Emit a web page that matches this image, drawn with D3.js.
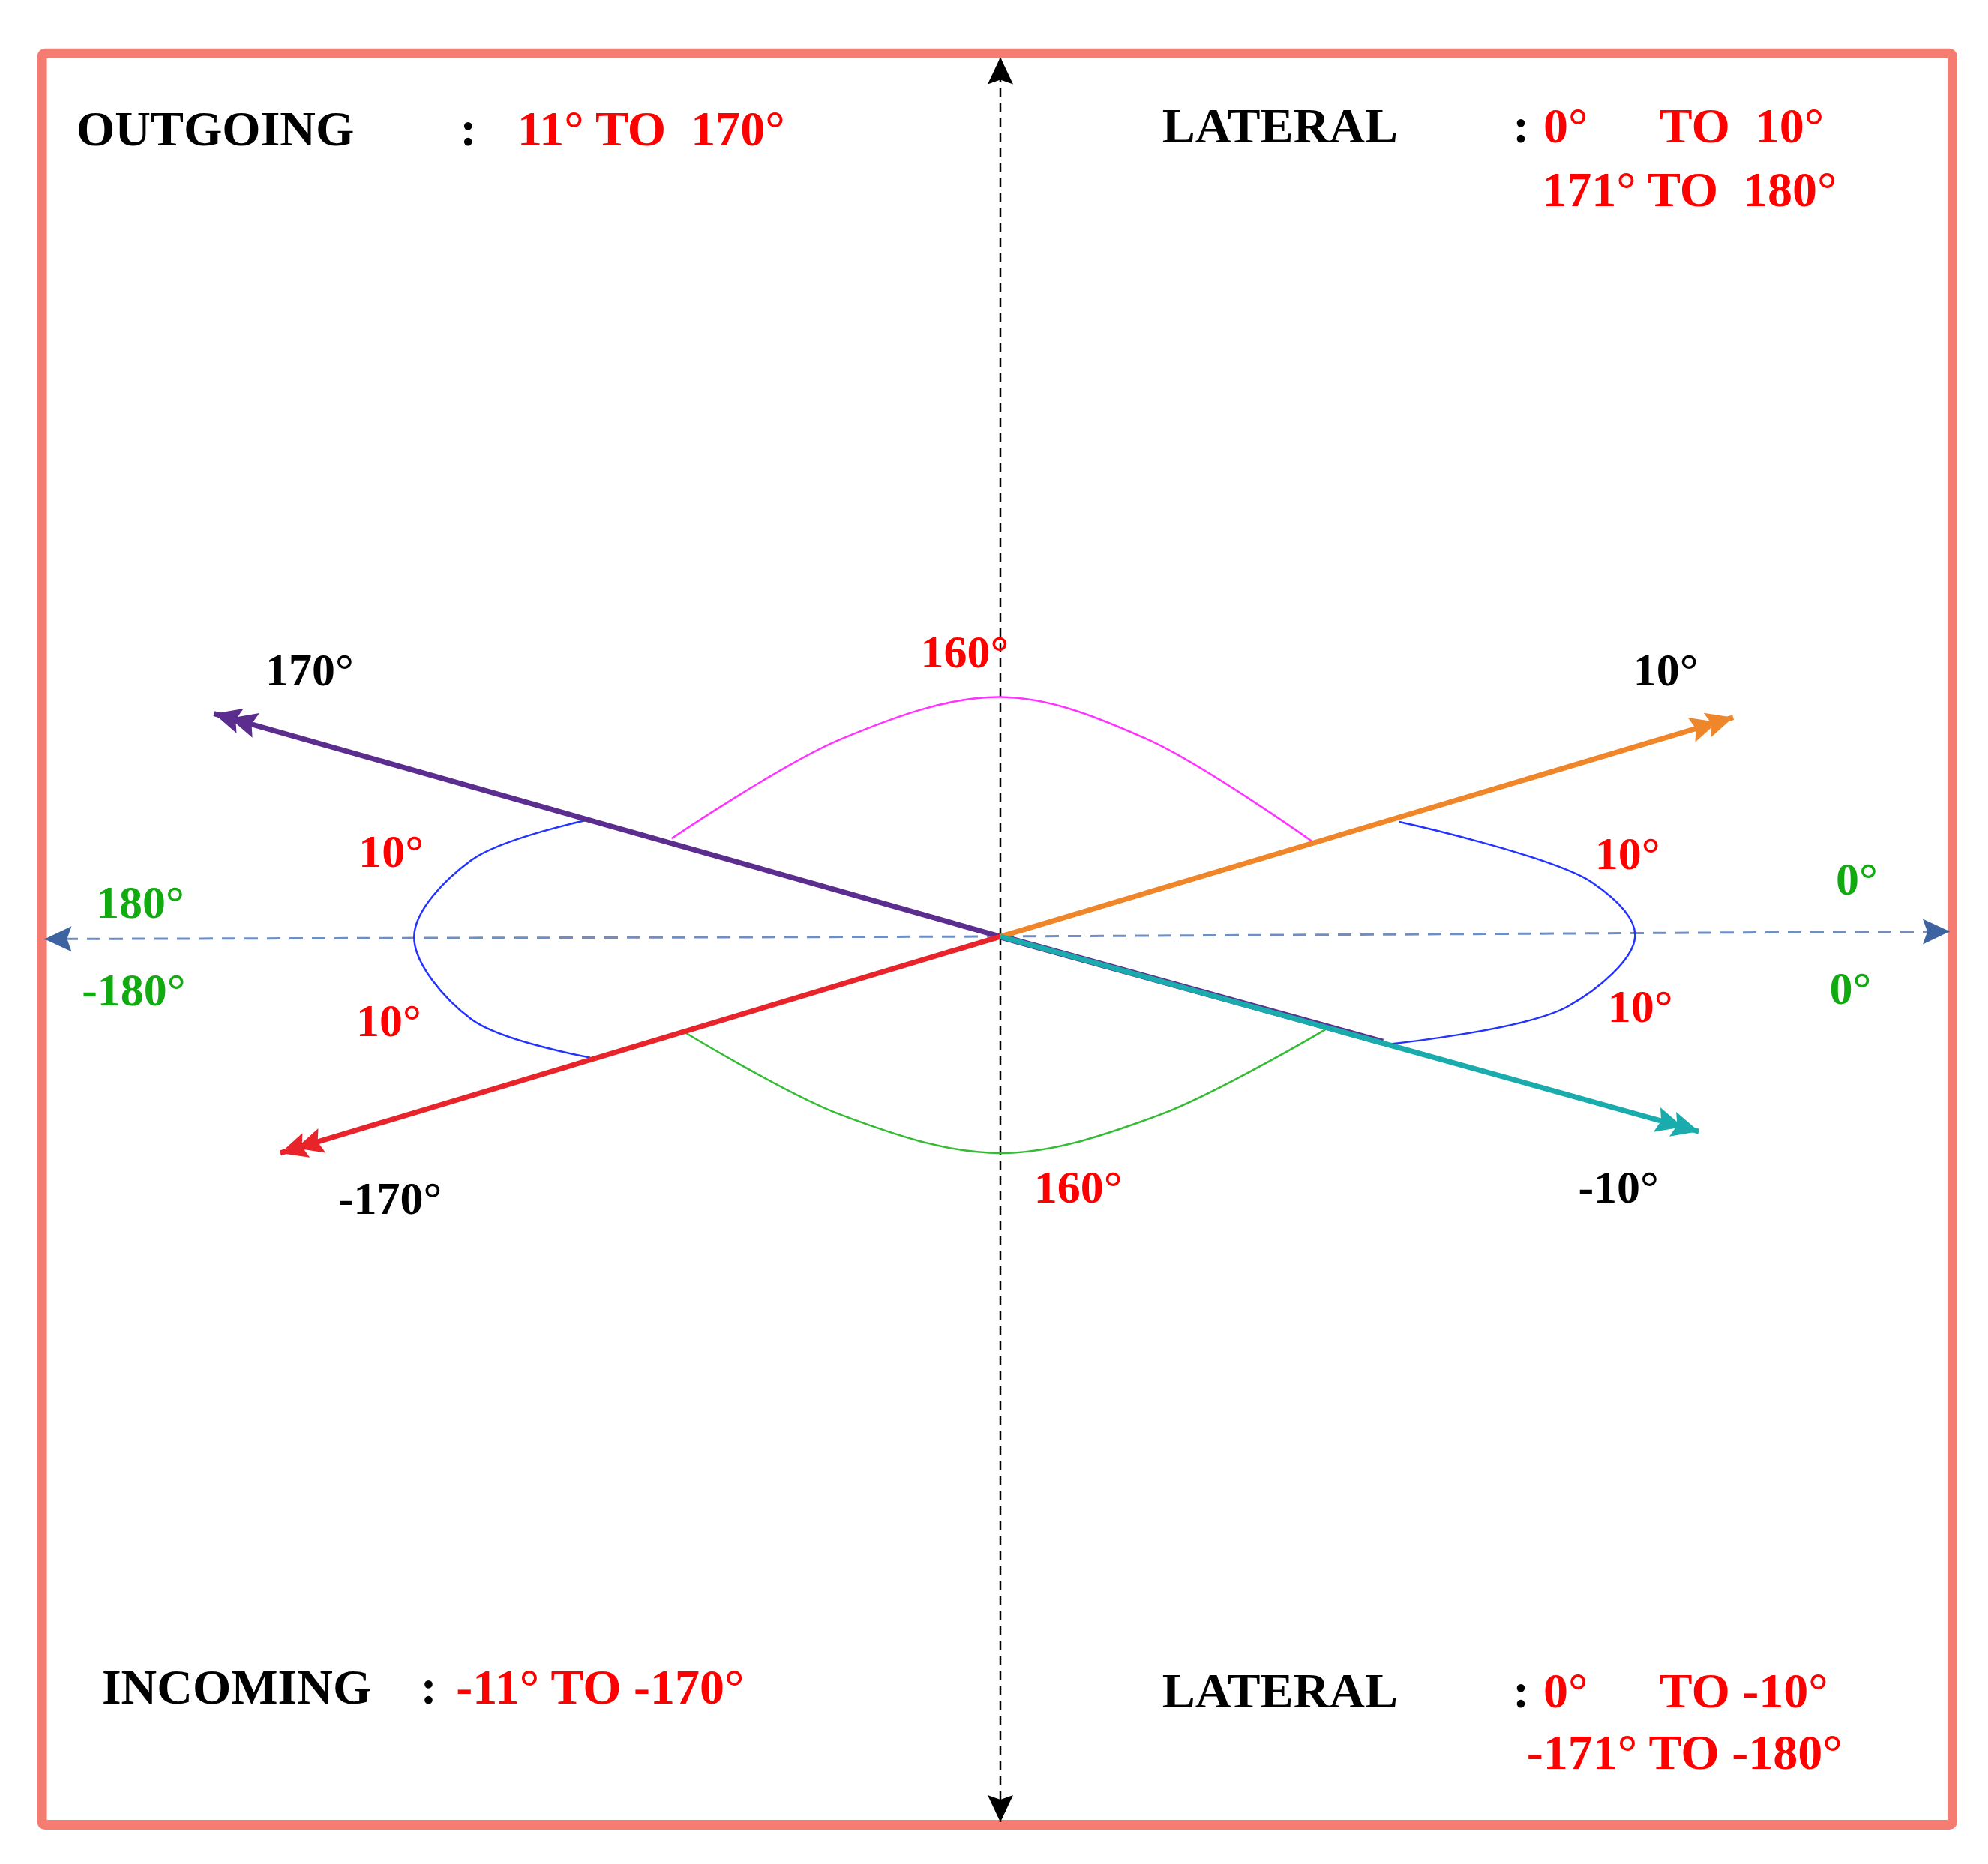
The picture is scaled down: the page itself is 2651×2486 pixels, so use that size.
<!DOCTYPE html>
<html><head><meta charset="utf-8">
<script src="https://d3js.org/d3.v7.min.js"></script>
<style>body{margin:0;background:#fff}</style>
</head><body><svg id="c" width="2651" height="2486"></svg>
<script>
// data in reference units (0..1560 x 0..1463)
const center = [785, 735];
const rays = [
  {name:"170°", end:[168,560], color:"#5b2d8e"},
  {name:"10°", end:[1360,563], color:"#f0862a"},
  {name:"-170°", end:[220,905], color:"#e8232a"},
  {name:"-10°", end:[1333,888], color:"#1aacac"}
];
const curves = [
  {color:"#ff33ff", pts:[[527,658],[660,580],[785,547],[900,580],[1032,662]]},
  {color:"#33bb33", pts:[[537,810],[660,875],[785,905],[910,875],[1040,808]]},
  {color:"#2233ff", pts:[[463,643],[370,675],[325,735],[370,800],[463,830]]},
  {color:"#2233ff", pts:[[1098,645],[1250,693],[1283,735],[1230,790],[1085,820]]}
];
const labels = [
  {t:"170°",x:243,y:538,c:"#000"},{t:"160°",x:757,y:524,c:"#ff0000"},
  {t:"10°",x:1307,y:538,c:"#000"},{t:"10°",x:307,y:680,c:"#ff0000"},
  {t:"10°",x:1277,y:682,c:"#ff0000"},{t:"10°",x:305,y:813,c:"#ff0000"},
  {t:"10°",x:1287,y:802,c:"#ff0000"},{t:"180°",x:110,y:720,c:"#11aa11"},
  {t:"-180°",x:105,y:789,c:"#11aa11"},{t:"0°",x:1457,y:702,c:"#11aa11"},
  {t:"0°",x:1452,y:788,c:"#11aa11"},{t:"-170°",x:306,y:953,c:"#000"},
  {t:"160°",x:846,y:944,c:"#ff0000"},{t:"-10°",x:1270,y:944,c:"#000"}
];
const headers = [
  {t:"OUTGOING",x:60,y:114,c:"#000"},{t:":",x:361,y:114,c:"#000"},
  {t:"11° TO  170°",x:406,y:114,c:"#ff0000"},
  {t:"LATERAL",x:912,y:112,c:"#000"},{t:":",x:1187,y:112,c:"#000"},
  {t:"0°",x:1211,y:112,c:"#ff0000"},{t:"TO  10°",x:1302,y:112,c:"#ff0000"},
  {t:"171° TO  180°",x:1210,y:162,c:"#ff0000"},
  {t:"INCOMING",x:80,y:1337,c:"#000"},{t:":",x:330,y:1337,c:"#000"},
  {t:"-11° TO -170°",x:358,y:1337,c:"#ff0000"},
  {t:"LATERAL",x:912,y:1340,c:"#000"},{t:":",x:1187,y:1340,c:"#000"},
  {t:"0°",x:1211,y:1340,c:"#ff0000"},{t:"TO -10°",x:1302,y:1340,c:"#ff0000"},
  {t:"-171° TO -180°",x:1198,y:1388,c:"#ff0000"}
];
const k = 2651/1560;
const sx = d3.scaleLinear().domain([0,1560]).range([0,1560*k]);
const sy = d3.scaleLinear().domain([0,1463]).range([0,1463*k]);
const svg = d3.select("#c");
const defs = svg.append("defs");
function marker(id,color,dbl){
  const m = defs.append("marker").attr("id",id).attr("markerUnits","userSpaceOnUse")
    .attr("viewBox","-60 -20 70 40").attr("markerWidth",70).attr("markerHeight",40)
    .attr("refX",0).attr("refY",0).attr("orient","auto");
  let d = "M0,0 L-36,-17 L-30,0 L-36,17 Z";
  if(dbl) d += " M-22,0 L-58,-17 L-52,0 L-58,17 Z";
  m.append("path").attr("d",d).attr("fill",color);
}
// frame
svg.append("rect").attr("x",sx(33)).attr("y",sy(42)).attr("width",sx(1532)-sx(33)).attr("height",sy(1432)-sy(42))
  .attr("fill","none").attr("stroke","#f47c70").attr("stroke-width",13).attr("rx",4);
// axes
marker("ab","#000",false); marker("ah","#3d63a0",false);
svg.append("line").attr("x1",sx(785)).attr("y1",sy(735)).attr("x2",sx(785)).attr("y2",sy(45))
  .attr("stroke","#000").attr("stroke-width",2.5).attr("stroke-dasharray","12,8").attr("marker-end","url(#ab)");
svg.append("line").attr("x1",sx(785)).attr("y1",sy(735)).attr("x2",sx(785)).attr("y2",sy(1430))
  .attr("stroke","#000").attr("stroke-width",2.5).attr("stroke-dasharray","12,8").attr("marker-end","url(#ab)");
svg.append("line").attr("x1",sx(785)).attr("y1",sy(735)).attr("x2",sx(35)).attr("y2",sy(737))
  .attr("stroke","#6f8fc4").attr("stroke-width",3).attr("stroke-dasharray","18,12").attr("marker-end","url(#ah)");
svg.append("line").attr("x1",sx(785)).attr("y1",sy(735)).attr("x2",sx(1530)).attr("y2",sy(731))
  .attr("stroke","#6f8fc4").attr("stroke-width",3).attr("stroke-dasharray","18,12").attr("marker-end","url(#ah)");
// curves
const line = d3.line().x(d=>sx(d[0])).y(d=>sy(d[1])).curve(d3.curveCatmullRom.alpha(0.5));
svg.selectAll("path.cv").data(curves).join("path").attr("class","cv")
  .attr("d",d=>line(d.pts)).attr("fill","none").attr("stroke",d=>d.color).attr("stroke-width",2.5);
// rays
rays.forEach((r,i)=>marker("m"+i,r.color,true));
// purple underlay toward -10
svg.append("line").attr("x1",sx(785)).attr("y1",sy(735)).attr("x2",sx(1085)).attr("y2",sy(818))
  .attr("stroke","#5b2d8e").attr("stroke-width",9);
svg.selectAll("line.ray").data(rays).join("line").attr("class","ray")
  .attr("x1",sx(center[0])).attr("y1",sy(center[1]))
  .attr("x2",d=>sx(d.end[0])).attr("y2",d=>sy(d.end[1]))
  .attr("stroke",d=>d.color).attr("stroke-width",7)
  .attr("marker-end",(d,i)=>"url(#m"+i+")");
// labels
const font = "'Liberation Serif','Times New Roman',serif";
svg.selectAll("text.lb").data(labels).join("text").attr("class","lb")
  .attr("x",d=>sx(d.x)).attr("y",d=>sy(d.y)).attr("text-anchor","middle")
  .attr("fill",d=>d.c).attr("font-family",font).attr("font-weight","bold").attr("font-size",62).text(d=>d.t);
svg.selectAll("text.hd").data(headers).join("text").attr("class","hd")
  .attr("x",d=>sx(d.x)).attr("y",d=>sy(d.y))
  .attr("fill",d=>d.c).attr("font-family",font).attr("font-weight","bold").attr("font-size",66)
  .attr("xml:space","preserve").style("white-space","pre").text(d=>d.t);
</script></body></html>
